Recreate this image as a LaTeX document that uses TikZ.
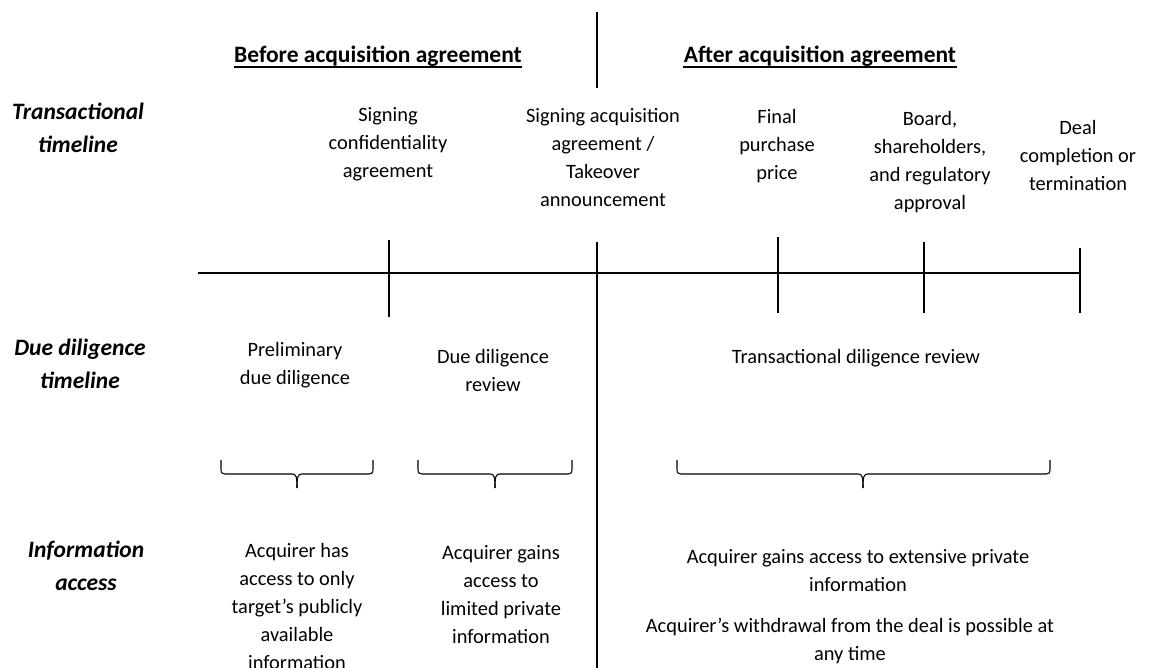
\documentclass[tikz,border=0pt]{standalone}
\usepackage{fontspec}
\setmainfont{Carlito}
\usetikzlibrary{positioning}

% curly brace opening downwards: left x, right x, tip x
\newcommand{\infobrace}[3]{%
  \draw (#1,460) -- (#1,469) .. controls (#1,473) and (#1+1,474) .. (#1+4,474)
    -- (#3-5,474) .. controls (#3-1,474) and (#3,476) .. (#3,488);
  \draw (#2,460) -- (#2,469) .. controls (#2,473) and (#2-1,474) .. (#2-4,474)
    -- (#3+5,474) .. controls (#3+1,474) and (#3,476) .. (#3,488);
}

\begin{document}
\begin{tikzpicture}[x=1pt,y=-1pt,line width=1.1pt,
      row label/.style={font=\fontsize{23.5}{33}\selectfont\bfseries\itshape,
          align=center},
      event node/.style={font=\fontsize{20.4}{28}\selectfont,align=center},
      header node/.style={font=\fontsize{23.5}{26}\selectfont\bfseries,
          inner sep=0, anchor=base}]
    \useasboundingbox (0,0) rectangle (1152,668);

    % row labels
    \node[row label] (trans row) at (78,128) {Transactional\\timeline};
    \node[row label] (dd row) at (80,364) {Due diligence\\timeline};
    \node[row label] (info row) at (86,566) {Information\\access};

    % headers
    \node[header node] (before) at (378,63) {Before acquisition agreement};
    \node[header node] (after) at (820,63) {After acquisition agreement};
    \draw[line width=2pt] ([yshift=-4pt]before.base west) -- ([yshift=-4pt]before.base east);
    \draw[line width=2pt] ([yshift=-4pt]after.base west) -- ([yshift=-4pt]after.base east);

    % transactional events
    \node[event node] (conf) at (388,144) {Signing\\confidentiality\\agreement};
    \node[event node] (sign) at (603,158) {Signing acquisition\\agreement /\\Takeover\\announcement};
    \node[event node] (price) at (777,146) {Final\\purchase\\price};
    \node[event node] (board) at (930,162) {Board,\\shareholders,\\and regulatory\\approval};
    \node[event node] (deal) at (1078,155) {Deal\\completion or\\termination};

    % timeline and ticks
    \draw (198,273) -- (1080,273);
    \draw (389,240) -- (389,317);
    \draw (778,237) -- (778,313);
    \draw (924,242) -- (924,313);
    \draw (1080,248) -- (1080,313);
    \draw (597,12) -- (597,88);
    \draw (597,242) -- (597,668);

    % due diligence phases
    \node[event node] (prelim) at (295,365) {Preliminary\\due diligence};
    \node[event node] (review) at (493,370) {Due diligence\\review};
    \node[event node] (tdr) at (856,358) {Transactional diligence review};

    \infobrace{221}{373}{297}
    \infobrace{418}{572}{495}
    \infobrace{677}{1050}{863}

    % information access
    \node[event node] (public) at (297,606) {Acquirer has\\access to only\\target’s publicly\\available\\information};
    \node[event node] (limited) at (501,595) {Acquirer gains\\access to\\limited private\\information};
    \node[event node] (extensive) at (858,571) {Acquirer gains access to extensive private\\information};
    \node[event node] (withdraw) at (850,641) {Acquirer’s withdrawal from the deal is possible at\\any time};

  \end{tikzpicture}
\end{document}
